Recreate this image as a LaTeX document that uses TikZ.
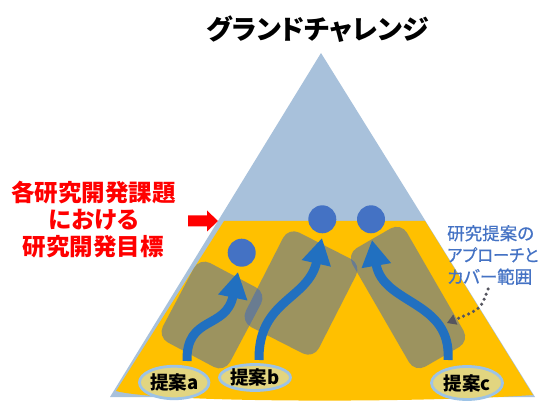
\documentclass[tikz,border=0pt]{standalone}
\usepackage{fontspec}
\setmainfont{Noto Sans CJK JP}[RawFeature=+palt]
\newfontfamily\notefont{Noto Sans CJK JP}[RawFeature=+palt, FakeBold=0.6]
\usetikzlibrary{arrows.meta,shapes.geometric}
\definecolor{skyblue}{RGB}{168,193,219}
\definecolor{goldfill}{RGB}{255,192,0}
\definecolor{coverblue}{RGB}{50,100,200}
\definecolor{dotblue}{RGB}{68,114,196}
\definecolor{flowblue}{RGB}{33,112,192}
\definecolor{labelfill}{RGB}{226,213,128}
\definecolor{labelring}{RGB}{157,195,230}
\definecolor{notegray}{RGB}{85,85,95}
\definecolor{notetext}{RGB}{68,114,196}
\begin{document}
\begin{tikzpicture}[x=1pt,y=-1pt,
  coverbox/.style={fill=coverblue, fill opacity=0.48, rounded corners=12pt, inner sep=0pt, draw=none},
  goal/.style={circle, fill=dotblue, minimum size=28pt, inner sep=0pt},
  flow/.style={draw=flowblue, line width=9pt, -{Triangle[width=28pt,length=26pt]}},
  proposal/.style={ellipse, fill=labelfill, draw=labelring, line width=2.8pt, inner sep=0pt,
    font=\bfseries\fontsize{18.5}{18.5}\selectfont},
  pointer/.style={draw=notegray, line width=3.5pt, dash pattern=on 0pt off 5.5pt, line cap=round,
    -{Triangle[width=11pt,length=9pt,fill=notegray,line width=0pt]}},
]
\useasboundingbox (0,0) rectangle (541,403);
% mountain
\fill[skyblue] (321,53) -- (110,397) -- (535,397) -- cycle;
\fill[goldfill] (224,221) -- (425,221) -- (533,395)
  .. controls (420,403) and (160,403) .. (116,391) -- cycle;
% coverage areas
\node[coverbox, minimum width=76pt, minimum height=90pt, rotate=-28] (ra) at (212,315) {};
\node[coverbox, minimum width=82pt, minimum height=106pt, rotate=-27] (rb) at (301,293) {};
\node[coverbox, minimum width=63pt, minimum height=137pt, rotate=30] (rc) at (408,297.5) {};
% red arrow
\fill[red] (188,215.5) -- (207,215.5) -- (207,210.5) -- (218,221) -- (207,231.5)
  -- (207,226.5) -- (188,226.5) -- cycle;
% goals
\node[goal] (ga) at (241.7,252.7) {};
\node[goal] (gb) at (322.3,219.3) {};
\node[goal] (gc) at (371,219.3) {};
% flows
\coordinate (fa) at (187,361);
\coordinate (ta) at (238,272);
\coordinate (fb) at (259,360);
\coordinate (tb) at (322,238);
\coordinate (fc) at (448,360);
\coordinate (tc) at (372,240);
\draw[flow] (fa) .. controls (186,315) and (226,330) .. (ta);
\draw[flow] (fb) .. controls (258,300) and (308,300) .. (tb);
\draw[flow] (fc) .. controls (452,300) and (383,305) .. (tc);
% proposals
\node[proposal, minimum width=69.5pt, minimum height=32.5pt] (pa) at (174.2,382.5) {提案a};
\node[proposal, minimum width=71pt, minimum height=26pt] (pb) at (255,377.5) {提案b};
\node[proposal, minimum width=71pt, minimum height=33pt] (pc) at (467,383) {提案c};
% texts
\node[font=\bfseries\fontsize{27}{27}\selectfont, inner sep=0pt] (title) at (317.5,29) {グランドチャレンジ};
\node[font=\bfseries\fontsize{23.5}{27}\selectfont, text=red, align=center, inner sep=0pt] (goaltext) at (93.5,220)
  {各研究開発課題\\における\\研究開発目標};
\node[font=\notefont\fontsize{17.5}{21.7}\selectfont, text=notetext, align=left, inner sep=0pt, anchor=west] (note) at (447,255)
  {研究提案の\\\scalebox{0.93}[1]{アプローチと}\\カバー範囲};
\coordinate (notetail) at (488,289);
\coordinate (notehead) at (447,323);
\draw[pointer] (notetail) .. controls (481,309) .. (notehead);
\end{tikzpicture}
\end{document}
